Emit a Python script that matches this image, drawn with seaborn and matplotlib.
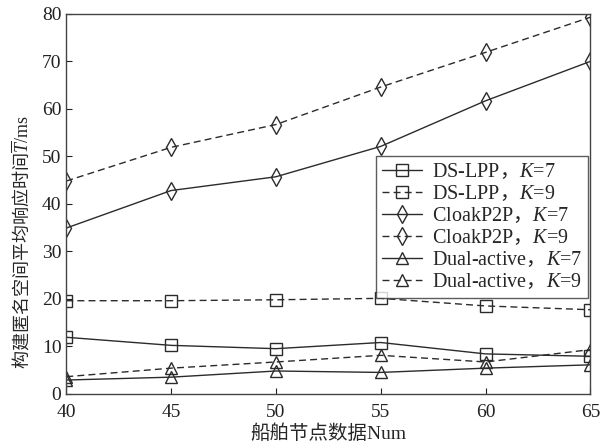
import matplotlib
matplotlib.use("Agg")
import matplotlib.pyplot as plt
import seaborn as sns
import pandas as pd

num = [40, 45, 50, 55, 60, 65]
ds_lpp_k7 = [11.9, 10.2, 9.5, 10.8, 8.4, 7.9]
ds_lpp_k9 = [19.6, 19.6, 19.8, 20.1, 18.5, 17.7]
cloak_k7 = [34.9, 42.8, 45.7, 52.1, 61.7, 70.0]
cloak_k9 = [44.8, 51.9, 56.7, 64.6, 71.9, 79.3]
dual_k7 = [2.9, 3.5, 4.8, 4.5, 5.4, 6.1]
dual_k9 = [3.6, 5.4, 6.7, 8.1, 6.7, 9.3]

labels = ["DS-LPP$\\mathsf{，}$$K$=7", "DS-LPP$\\mathsf{，}$$K$=9",
          "CloakP2P$\\mathsf{，}$$K$=7", "CloakP2P$\\mathsf{，}$$K$=9",
          "Dual-active$\\mathsf{，}$$K$=7", "Dual-active$\\mathsf{，}$$K$=9"]
series = [ds_lpp_k7, ds_lpp_k9, cloak_k7, cloak_k9, dual_k7, dual_k9]
markers = ["s", "s", "d", "d", "^", "^"]
styles = ["-", "--", "-", "--", "-", "--"]

sns.set_style("ticks")
plt.rcParams["font.family"] = ["Liberation Serif", "Noto Sans CJK SC"]
plt.rcParams["mathtext.fontset"] = "custom"
plt.rcParams["mathtext.rm"] = "Liberation Serif"
plt.rcParams["mathtext.it"] = "Liberation Serif:italic"
plt.rcParams["mathtext.sf"] = "Noto Sans CJK SC"
plt.rcParams["xtick.direction"] = "in"
plt.rcParams["ytick.direction"] = "in"

fig = plt.figure(figsize=(6.08, 4.48), dpi=100)
ax = fig.add_axes([0.109, 0.121, 0.862, 0.848])
col = "#2b2b2b"
for vals, lab, m, ls in zip(series, labels, markers, styles):
    df = pd.DataFrame({"x": num, "y": vals})
    sns.lineplot(data=df, x="x", y="y", ax=ax, color=col, linestyle=ls, linewidth=1.0,
                 marker=m, markersize=9, markerfacecolor="none", markeredgecolor=col,
                 markeredgewidth=1.0, label=lab)
    if ls == "--":
        ax.lines[-1].set_dashes((5, 3))

ax.set_xlim(40, 65)
ax.set_ylim(0, 80)
ax.set_xticks(num)
ax.set_yticks(range(0, 81, 10))
ax.tick_params(labelsize=14, colors="#222222", length=4, width=0.8)
ax.tick_params(axis="x", pad=7)
for s in ax.spines.values():
    s.set_color("#444444")
    s.set_linewidth(1.0)
ax.set_xlabel("船舶节点数据Num", fontsize=14, labelpad=3)
ax.set_ylabel("$\\mathsf{构建匿名空间平均响应时间}\\overline{T}$/ms", fontsize=13)
ax.yaxis.set_label_coords(-0.065, 0.40)
leg = ax.legend(loc="upper right", bbox_to_anchor=(1.0, 0.63), fontsize=14.5, frameon=True,
                fancybox=False, edgecolor="#333333", handlelength=2.0, borderpad=0.3,
                labelspacing=0.15, handletextpad=0.5, borderaxespad=0.1)
leg.get_frame().set_linewidth(1.0)
fig.savefig("out.png", dpi=100)
